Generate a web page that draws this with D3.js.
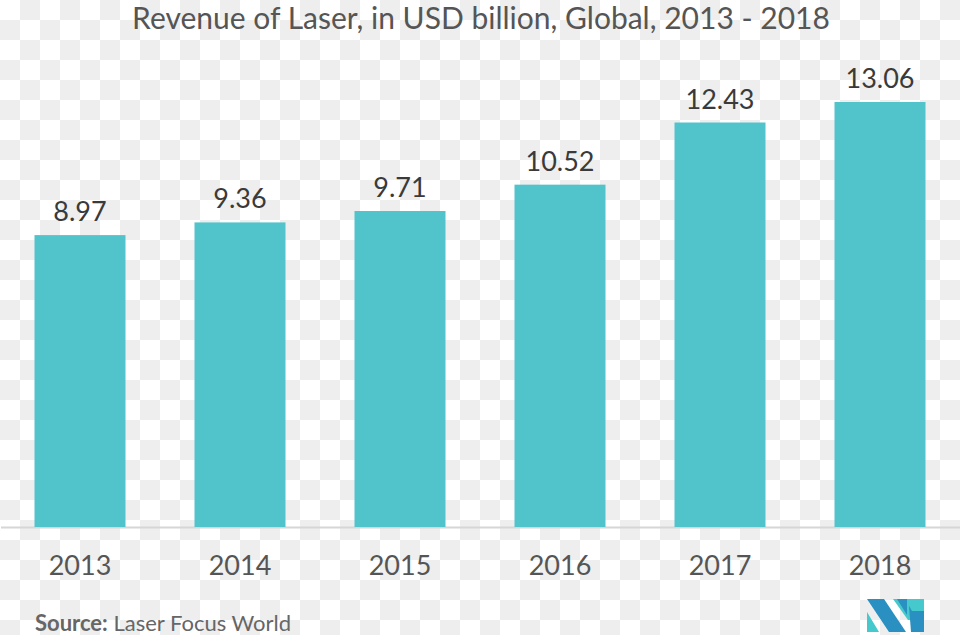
<!DOCTYPE html>
<html>
<head>
<meta charset="utf-8">
<script src="https://cdn.jsdelivr.net/npm/d3@7"></script>
<style>
  html, body { margin: 0; padding: 0; background: #fff; }
  svg { display: block; }
</style>
</head>
<body>
<svg id="chart" width="960" height="635"></svg>
<script>
const years  = ['2013', '2014', '2015', '2016', '2017', '2018']
const values = [8.97, 9.36, 9.71, 10.52, 12.43, 13.06]
const title  = 'Revenue of Laser, in USD billion, Global, 2013 - 2018'

const svg = d3.select('#chart')
const width = +svg.attr('width')
const height = +svg.attr('height')
const baseY = 527

// transparent-background checkerboard seen in the reference
const pat = svg.append('defs').append('pattern')
   .attr('id', 'checker').attr('patternUnits', 'userSpaceOnUse')
   .attr('width', 40).attr('height', 40)
pat.append('rect').attr('width', 40).attr('height', 40).attr('fill', '#fff')
pat.append('rect').attr('x', 20).attr('y', 0).attr('width', 20).attr('height', 20).attr('fill', '#eee')
pat.append('rect').attr('x', 0).attr('y', 20).attr('width', 20).attr('height', 20).attr('fill', '#eee')
svg.append('rect').attr('width', width).attr('height', height).attr('fill', 'url(#checker)')

const x = d3.scaleBand().domain(years).range([0, width])
            .paddingInner(0.43125).paddingOuter(0.215625)
const y = d3.scaleLinear().domain([0, 13.06]).range([baseY, 102])

svg.append('text')
   .attr('x', 481).attr('y', 29)
   .attr('text-anchor', 'middle')
   .attr('font-family', 'Lato, sans-serif')
   .attr('font-size', 30)
   .attr('fill', '#555')
   .text(title)

const data = years.map((yr, i) => ({year: yr, value: values[i]}))

svg.append('line')
   .attr('x1', 1).attr('x2', width)
   .attr('y1', baseY + 0.5).attr('y2', baseY + 0.5)
   .attr('stroke', '#d6d6d6').attr('stroke-width', 2)

svg.selectAll('rect.bar').data(data).enter().append('rect')
   .attr('class', 'bar')
   .attr('x', d => x(d.year))
   .attr('y', d => y(d.value))
   .attr('width', x.bandwidth())
   .attr('height', d => baseY - y(d.value))
   .attr('fill', '#51c4cb')

svg.selectAll('text.val').data(data).enter().append('text')
   .attr('class', 'val')
   .attr('x', d => x(d.year) + x.bandwidth() / 2)
   .attr('y', d => y(d.value) - 14)
   .attr('text-anchor', 'middle')
   .attr('font-family', 'Lato, sans-serif')
   .attr('font-size', 27)
   .attr('fill', '#3a3a3a')
   .text(d => d.value.toFixed(2))

const xAxis = svg.append('g')
   .attr('transform', `translate(0,${baseY})`)
   .call(d3.axisBottom(x).tickSize(0).tickPadding(29))
xAxis.select('.domain').remove()
xAxis.selectAll('text')
   .attr('font-family', 'Lato, sans-serif')
   .attr('font-size', 27)
   .attr('fill', '#555')

const src = svg.append('text')
   .attr('x', 35).attr('y', 631)
   .attr('font-family', 'Lato, sans-serif')
   .attr('font-size', 22)
   .attr('fill', '#666')
src.append('tspan').attr('font-weight', 'bold').text('Source:')
src.append('tspan').text(' Laser Focus World')

// logo
const logo = svg.append('g')
logo.append('path').attr('d', 'M867,599 L884,599 L906,632 L889,632 Z').attr('fill', '#2a8fc1')
logo.append('path').attr('d', 'M867,612 L879,632 L867,632 Z').attr('fill', '#45c9cc')
logo.append('path').attr('d', 'M893,599 L924,599 L924,620 L908,620 Z').attr('fill', '#45c9cc')
logo.append('path').attr('d', 'M897,599 L907,599 L907,615 Z').attr('fill', '#2a8fc1')
logo.append('path').attr('d', 'M909,606 L924,606 L924,632 L911,632 Z').attr('fill', '#2a8fc1')
logo.append('path').attr('d', 'M909,606 L924,606 L924,611 L912,611 Z').attr('fill', '#45c9cc')
</script>
</body>
</html>
